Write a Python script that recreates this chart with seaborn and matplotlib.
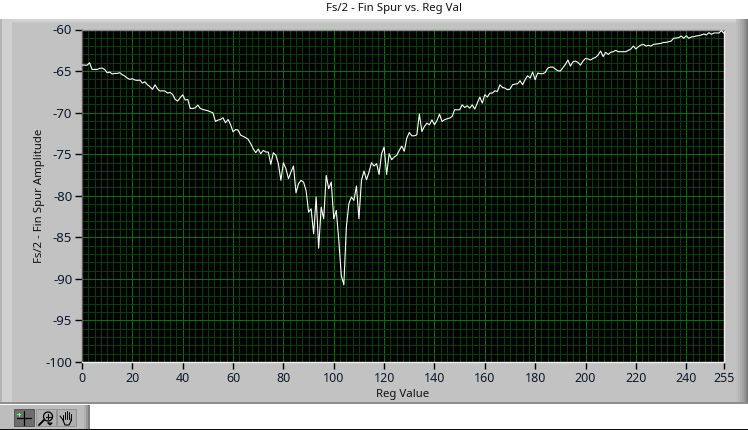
import numpy as np
import pandas as pd
import seaborn as sns
import matplotlib
matplotlib.use("Agg")
import matplotlib.pyplot as plt
from matplotlib.patches import Rectangle
from matplotlib.lines import Line2D
from matplotlib.ticker import MultipleLocator, FixedLocator

title = "Fs/2 - Fin Spur vs. Reg Val"
xlabel = "Reg Value"
ylabel = "Fs/2 - Fin Spur Amplitude"
x_ticks = [0, 20, 40, 60, 80, 100, 120, 140, 160, 180, 200, 220, 240, 255]
y_ticks = [-60, -65, -70, -75, -80, -85, -90, -95, -100]

spur_0_63 = [-64.28, -64.28, -64.3, -64.0, -64.8, -64.8, -64.8, -64.68, -64.64, -64.8,
             -65.2, -65.12, -65.36, -65.28, -65.28, -65.2, -65.44, -65.6, -65.84, -66.0,
             -65.92, -66.08, -66.12, -66.08, -66.45, -66.29, -66.65, -66.89, -67.2, -66.65,
             -67.13, -67.41, -67.37, -67.41, -67.65, -67.57, -67.81, -68.41, -68.61, -68.21,
             -67.85, -68.49, -68.41, -69.5, -69.5, -69.42, -69.1, -69.5, -69.62, -69.7,
             -69.78, -69.9, -70.02, -71.06, -70.9, -70.82, -70.62, -71.22, -70.82, -71.43,
             -72.31, -72.03, -72.11, -72.71]
spur_64_127 = [-72.85, -73.01, -73.21, -73.73, -74.34, -74.82, -74.38, -74.94, -74.54, -74.74,
               -74.74, -76.22, -74.82, -75.14, -76.14, -78.15, -76.02, -76.75, -77.95, -77.15,
               -76.43, -79.64, -78.55, -78.15, -78.35, -79.36, -81.97, -81.57, -84.58, -80.16,
               -86.31, -81.37, -82.77, -77.55, -79.16, -78.35, -82.77, -81.77, -85.38, -89.6,
               -90.72, -83.78, -80.96, -80.16, -80.56, -78.84, -82.77, -78.15, -77.03, -78.07,
               -77.15, -76.02, -76.43, -76.14, -77.43, -74.94, -74.14, -77.43, -74.94, -75.66,
               -75.34, -75.14, -74.54, -74.02]
spur_128_191 = [-74.64, -73.07, -72.39, -72.79, -72.79, -72.67, -70.18, -72.27, -71.67, -71.27,
                -71.47, -70.86, -71.47, -70.94, -70.18, -71.06, -70.86, -70.74, -70.66, -70.46,
                -69.66, -69.66, -69.66, -69.06, -69.38, -69.18, -69.46, -69.06, -69.58, -68.86,
                -68.13, -68.86, -67.85, -68.13, -67.65, -67.65, -67.37, -67.45, -66.65, -66.97,
                -67.05, -67.25, -67.17, -66.65, -66.57, -66.53, -66.16, -66.65, -66.04, -65.56,
                -65.84, -65.12, -66.04, -65.24, -65.32, -65.32, -65.16, -64.64, -64.52, -64.52,
                -64.76, -64.96, -65.0, -64.6]
spur_192_255 = [-64.2, -63.67, -64.4, -63.88, -63.8, -63.96, -64.28, -63.8, -63.47, -63.55,
                -63.67, -63.47, -63.35, -63.07, -62.59, -63.27, -62.75, -62.99, -62.75, -62.67,
                -62.51, -62.67, -62.67, -62.67, -62.67, -62.51, -62.35, -61.99, -62.35, -62.07,
                -61.87, -61.79, -61.99, -61.91, -61.99, -61.79, -61.75, -61.71, -61.67, -61.55,
                -61.55, -61.47, -61.39, -61.06, -61.02, -60.98, -60.78, -61.06, -60.74, -61.06,
                -60.9, -60.86, -60.78, -60.74, -60.66, -60.54, -60.66, -60.38, -60.58, -60.42,
                -60.42, -60.42, -60.14, -60.46]

spur = spur_0_63 + spur_64_127 + spur_128_191 + spur_192_255
df = pd.DataFrame({"reg": np.arange(len(spur)), "spur": spur})

W, H = 748, 430
sns.set_theme(style="white")
plt.rcParams["font.family"] = ["Noto Sans", "DejaVu Sans"]

fig = plt.figure(figsize=(W / 100, H / 100), dpi=100, facecolor="white")


def px_rect(x0, y0, x1, y1, color, **kw):
    fig.add_artist(Rectangle((x0 / W, 1 - y1 / H), (x1 - x0) / W, (y1 - y0) / H,
                             transform=fig.transFigure, facecolor=color,
                             edgecolor=kw.pop("edgecolor", "none"), linewidth=kw.pop("linewidth", 0), **kw))


def px_line(xs, ys, color="black", lw=1.0):
    fig.add_artist(Line2D([x / W for x in xs], [1 - y / H for y in ys],
                          transform=fig.transFigure, color=color, linewidth=lw))


# panel chrome
px_rect(0, 19, W, 404, "#C2C2C2")
px_rect(0, 19, W, 22, "#D2D2D2")
px_rect(0, 19, 12, 404, "#D0D0D0")
px_rect(0, 19, 2, 404, "#B4B4B4")
for i, c in enumerate(["#BEBEBE", "#B6B6B6", "#ACACAC", "#A2A2A2", "#949494", "#7E7E7E"]):
    px_rect(736 + i * 2, 19, 738 + i * 2, 404, c)
px_rect(0, 402, W, 404, "#8E8E8E")
px_rect(0, 429, W, 430, "#101010")

# toolbar
px_rect(0, 405, 84, 429, "#BDBDBD")
for i, c in enumerate(["#B0B0B0", "#9A9A9A", "#808080"]):
    px_rect(84 + i * 2, 405, 86 + i * 2, 429, c)
px_rect(14, 409, 34, 426, "#6E6E6E", edgecolor="#4A4A4A", linewidth=0.6)
px_rect(36, 409, 56, 426, "#B0B0B0", edgecolor="#8E8E8E", linewidth=0.6)
px_rect(57, 409, 76, 426, "#B0B0B0", edgecolor="#8E8E8E", linewidth=0.6)
px_line([17, 31], [418, 418], "black", 0.9)
px_line([24, 24], [411, 425], "black", 0.9)
px_line([17, 20], [414, 414], "#66FF66", 0.9)
px_line([18.5, 18.5], [412.5, 415.5], "#66FF66", 0.9)
px_line([39, 44], [425, 420], "black", 1.4)
mag_t = np.linspace(0, 2 * np.pi, 40)
px_line(list(48 + 4.5 * np.cos(mag_t)), list(416.5 + 4.5 * np.sin(mag_t)), "black", 0.9)
px_line([45.5, 50.5], [416.5, 416.5], "black", 0.8)
px_line([48, 48], [414, 419], "black", 0.8)
px_line([48, 52, 50, 48], [423, 423, 425, 423], "black", 0.8)
for xs, ys in [([63, 63], [415, 420]), ([65, 65], [412, 419]), ([67, 67], [411, 419]),
               ([69, 69], [412, 419]), ([71, 71], [414, 420])]:
    px_line(xs, ys, "black", 0.7)
px_line([63, 65, 69, 71, 71], [420, 425, 425, 421, 419], "black", 0.8)
px_line([60, 63], [416, 420], "black", 0.7)

# plot area: pixels (82, 29.5) .. (724, 362)
ax = fig.add_axes([82 / W, 1 - 362 / H, (724 - 82) / W, (362 - 29.5) / H], facecolor="black")
ax.set_zorder(5)

ax.xaxis.set_major_locator(FixedLocator(x_ticks))
ax.yaxis.set_major_locator(FixedLocator(y_ticks))
ax.xaxis.set_minor_locator(MultipleLocator(2.5))
ax.yaxis.set_minor_locator(MultipleLocator(1))
ax.grid(which="minor", color="#004000", linewidth=0.72)
ax.grid(which="major", color="#007400", linewidth=0.72)
ax.set_axisbelow(True)

sns.lineplot(data=df, x="reg", y="spur", color="white", linewidth=0.8, ax=ax, zorder=4)

ax.set_xlim(0, 255)
ax.set_ylim(-100, -60)
ax.set_xticklabels([str(t) for t in x_ticks], fontsize=9, color="#101828")
ax.set_yticklabels([str(t) for t in y_ticks], fontsize=9.5, color="#101828")
ax.tick_params(axis="y", which="major", length=5, width=1, color="black", pad=2, left=True)
ax.tick_params(axis="x", which="major", length=5, width=1, color="black", pad=2, bottom=True)
ax.tick_params(axis="both", which="minor", length=0)
ax.set_xlabel(xlabel, fontsize=8.2, color="#101010")
ax.set_ylabel(ylabel, fontsize=8.2, color="#101010")
ax.yaxis.set_label_coords((45 - 82) / (724 - 82), 0.5)
ax.xaxis.set_label_coords(0.499, -(389 - 362) / 332.5)
fig.text(394 / W, 1 - 9 / H, title, fontsize=8.2, color="#101010", ha="center", va="center")

for s, c in {"left": "#5A5A5A", "top": "#8A8A8A", "right": "#F0F0F0", "bottom": "#F0F0F0"}.items():
    ax.spines[s].set_color(c)
    ax.spines[s].set_linewidth(1.0)

fig.savefig("out.png", dpi=100, facecolor=fig.get_facecolor())
